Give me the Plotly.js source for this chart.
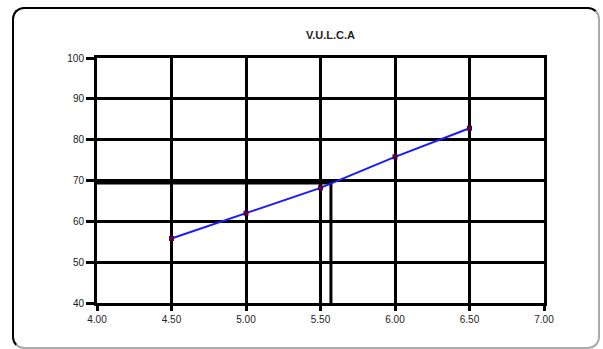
<!DOCTYPE html>
<html>
<head>
<meta charset="utf-8">
<script src="https://cdn.plot.ly/plotly-3.0.1.min.js"></script>
<style>
  html, body { margin: 0; padding: 0; background: #fff; }
  #wrap { position: relative; width: 603px; height: 349px; overflow: hidden; }
  #chart { position: absolute; left: 0; top: 0; width: 603px; height: 349px; }
  #frame {
    position: absolute; left: 12px; top: 7px; width: 584px; height: 338px;
    border: 2px solid #000; border-right-color: #aaa; border-bottom-color: #aaa;
    border-radius: 12px; pointer-events: none;
  }
</style>
</head>
<body>
<div id="wrap">
  <div id="chart"></div>
  <div id="frame"></div>
</div>
<script>
// Measured points
const xValues = [4.5, 5.0, 5.5, 6.0, 6.5];
const yValues = [55.8, 62.0, 68.2, 75.8, 82.8];

// Reading guide: value 70 projected down to the x axis
const guideY = 70;
const guideX = 5.57;

// Axis ticks
const xTicks = [4.0, 4.5, 5.0, 5.5, 6.0, 6.5, 7.0];
const xTickText = ['4.00', '4.50', '5.00', '5.50', '6.00', '6.50', '7.00'];
const yTicks = [40, 50, 60, 70, 80, 90, 100];
const yTickText = ['40', '50', '60', '70', '80', '90', '100'];

const xMin = xTicks[0], xMax = xTicks[xTicks.length - 1];
const yMin = yTicks[0], yMax = yTicks[yTicks.length - 1];

const traces = [
  {
    // thick horizontal reading line, drawn just under the 70 gridline
    x: [xMin, guideX],
    y: [guideY - 0.6, guideY - 0.6],
    mode: 'lines',
    line: { color: '#000', width: 3 },
    hoverinfo: 'skip',
    showlegend: false
  },
  {
    // vertical drop from the curve to the x axis
    x: [guideX, guideX],
    y: [guideY, yMin],
    mode: 'lines',
    line: { color: '#000', width: 3 },
    hoverinfo: 'skip',
    showlegend: false
  },
  {
    x: xValues,
    y: yValues,
    mode: 'lines+markers',
    line: { color: '#1a1aff', width: 2 },
    marker: { color: '#5a0040', size: 5, symbol: 'square' },
    showlegend: false
  }
];

const axisCommon = {
  showline: true,
  mirror: true,
  linecolor: '#000',
  linewidth: 3,
  showgrid: true,
  gridcolor: '#000',
  gridwidth: 3,
  zeroline: false,
  ticks: 'outside',
  tickcolor: '#000',
  tickwidth: 3,
  tickfont: { family: 'Liberation Sans, Arial, sans-serif', size: 10, color: '#222' }
};

const layout = {
  width: 603,
  height: 349,
  margin: { l: 97, r: 59, t: 58, b: 46 },
  paper_bgcolor: '#fff',
  plot_bgcolor: '#fff',
  title: {
    text: '<b>V.U.L.C.A</b>',
    x: 0.548,
    xanchor: 'center',
    y: 0.9,
    yanchor: 'middle',
    font: { family: 'Liberation Sans, Arial, sans-serif', size: 11, color: '#222' }
  },
  xaxis: Object.assign({}, axisCommon, {
    range: [xMin, xMax],
    tickvals: xTicks,
    ticktext: xTickText,
    ticklen: 5
  }),
  yaxis: Object.assign({}, axisCommon, {
    range: [yMin, yMax],
    tickvals: yTicks,
    ticktext: yTickText,
    ticklen: 8
  })
};

Plotly.newPlot('chart', traces, layout, { displayModeBar: false, staticPlot: true });
</script>
</body>
</html>
